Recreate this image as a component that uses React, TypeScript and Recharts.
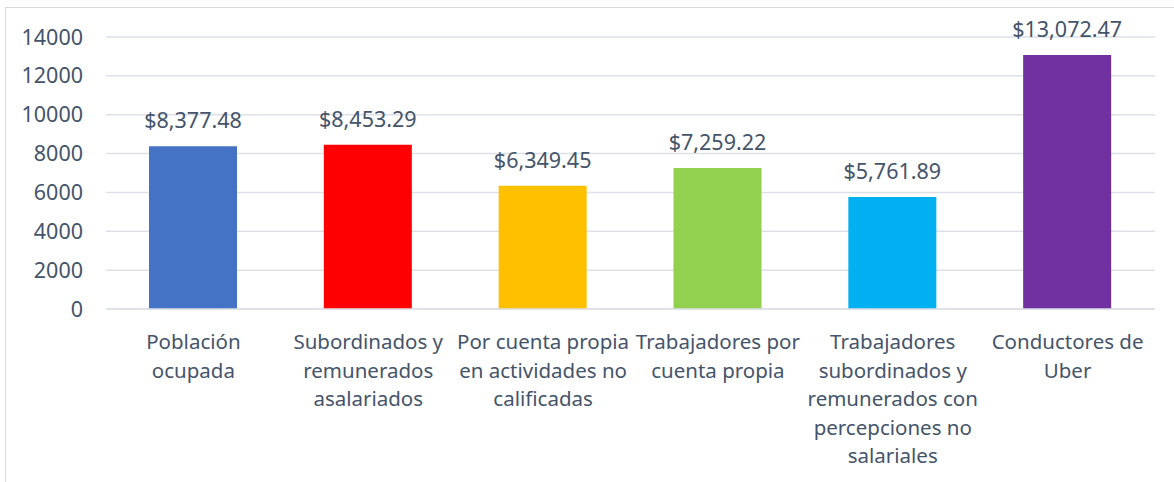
import { BarChart, Bar, XAxis, YAxis, CartesianGrid, LabelList, Cell } from 'recharts';

/* ── Data ── */
const categories = [
  'Población\nocupada',
  'Subordinados y\nremunerados\nasalariados',
  'Por cuenta propia\nen actividades no\ncalificadas',
  'Trabajadores por\ncuenta propia',
  'Trabajadores\nsubordinados y\nremunerados con\npercepciones no\nsalariales',
  'Conductores de\nUber',
];
const values = [8377.48, 8453.29, 6349.45, 7259.22, 5761.89, 13072.47];
const colors = ['#4472C4', '#FF0000', '#FFC000', '#92D050', '#00B0F0', '#7030A0'];
const yTicks = [0, 2000, 4000, 6000, 8000, 10000, 12000, 14000];

const data = categories.map((name, i) => ({ name, value: values[i] }));

/* ── Theme ── */
const TEXT = '#44546A';
const GRID = '#dde1e7';
const FONT = '"Noto Sans", sans-serif';

const money = (v: any) =>
  '$' + Number(v).toLocaleString('en-US', { minimumFractionDigits: 2, maximumFractionDigits: 2 });

const CatTick = ({ x, y, payload }: any) => {
  const lines = String(payload.value).split('\n');
  return (
    <text x={x} y={y} textAnchor="middle" fill={TEXT} fontSize={20.5} fontFamily={FONT}>
      {lines.map((l, i) => (
        <tspan key={i} x={x} dy={i === 0 ? 32 : 28.5}>{l}</tspan>
      ))}
    </text>
  );
};

export default function App() {
  return (
    <div style={{ position: 'absolute', left: 0, top: 0, width: 1174, height: 482, overflow: 'hidden', background: '#fff' }}>
      <div style={{ position: 'absolute', left: 5, top: 7, width: 1200, height: 500, border: '1px solid #d9d9d9' }} />
      <div style={{ position: 'absolute', left: 0, top: 0 }}>
        <BarChart width={1174} height={482} data={data} margin={{ top: 37, right: 19, bottom: 13, left: 0 }} barSize={88}>
          <CartesianGrid vertical={false} stroke={GRID} strokeWidth={1.5} />
          <XAxis
            dataKey="name"
            interval={0}
            height={160}
            axisLine={{ stroke: GRID, strokeWidth: 1.5 }}
            tickLine={false}
            tick={<CatTick />}
          />
          <YAxis
            width={106}
            domain={[0, 14000]}
            ticks={yTicks}
            axisLine={false}
            tickLine={false}
            tickSize={0}
            tickMargin={23}
            tick={{ fill: TEXT, fontSize: 21.5, fontFamily: FONT }}
          />
          <Bar dataKey="value" isAnimationActive={false}>
            {data.map((_, i) => (
              <Cell key={i} fill={colors[i]} />
            ))}
            <LabelList
              dataKey="value"
              position="top"
              offset={18}
              formatter={money}
              fill={TEXT}
              fontSize={21.5}
              fontFamily={FONT}
            />
          </Bar>
        </BarChart>
      </div>
    </div>
  );
}
